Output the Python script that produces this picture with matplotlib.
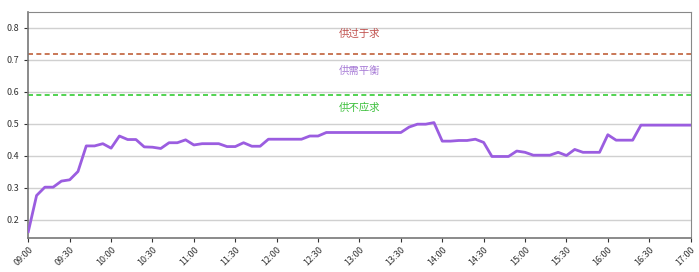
import matplotlib
matplotlib.use('Agg')
import matplotlib.pyplot as plt
import numpy as np

plt.rcParams['font.family'] = ['Noto Sans CJK SC', 'DejaVu Sans']

# 采样间隔 6 分钟, 09:00 - 17:00
step_min = 6
ratio = [
    0.163, 0.276, 0.302, 0.302, 0.321, 0.325, 0.351, 0.431, 0.431, 0.438,
    0.424, 0.462, 0.451, 0.451, 0.428, 0.427, 0.423, 0.441, 0.441, 0.450,
    0.434, 0.438, 0.438, 0.438, 0.429, 0.429, 0.441, 0.430, 0.430, 0.452,
    0.452, 0.452, 0.452, 0.452, 0.462, 0.462, 0.473, 0.473, 0.473, 0.473,
    0.473, 0.473, 0.473, 0.473, 0.473, 0.473, 0.490, 0.499, 0.499, 0.504,
    0.446, 0.446, 0.448, 0.448, 0.452, 0.442, 0.398, 0.398, 0.398, 0.415,
    0.411, 0.402, 0.402, 0.402, 0.411, 0.401, 0.420, 0.411, 0.411, 0.411,
    0.466, 0.449, 0.449, 0.449, 0.496, 0.496, 0.496, 0.496, 0.496, 0.496,
    0.496,
]
tick_labels = ['09:00', '09:30', '10:00', '10:30', '11:00', '11:30', '12:00',
               '12:30', '13:00', '13:30', '14:00', '14:30', '15:00', '15:30',
               '16:00', '16:30', '17:00']
upper_level = 0.72
lower_level = 0.59
zone_names = ['供过于求', '供需平衡', '供不应求']
zone_y = [0.78, 0.665, 0.551]
zone_colors = ['#c0504d', '#a77bd6', '#3cc03c']

minutes = np.arange(len(ratio)) * step_min

fig = plt.figure(figsize=(6.99, 2.72), dpi=100)
ax = fig.add_axes([0.0405, 0.125, 0.9475, 0.831])

ax.plot(minutes, ratio, color='#9b5de0', linewidth=2, zorder=3)
ax.axhline(upper_level, color='#c0603a', linestyle='--', linewidth=1.2, dashes=(3, 2), zorder=2)
ax.axhline(lower_level, color='#33cc33', linestyle='--', linewidth=1.2, dashes=(3, 2), zorder=2)

# 区域文字放在 13:00
for name, yv, c in zip(zone_names, zone_y, zone_colors):
    ax.text(240, yv, name, color=c, fontsize=7.5, ha='center', va='center')

ax.set_xlim(0, 480)
ax.set_ylim(0.143, 0.85)
ax.set_yticks([0.2, 0.3, 0.4, 0.5, 0.6, 0.7, 0.8])
ax.set_yticklabels(['0.2', '0.3', '0.4', '0.5', '0.6', '0.7', '0.8'])
ax.set_xticks(np.arange(0, 481, 30))
ax.set_xticklabels(tick_labels, rotation=45, ha='right', rotation_mode='anchor')

ax.tick_params(axis='both', labelsize=6.5, colors='#333333', length=3, width=0.8)
ax.tick_params(axis='x', pad=2)
ax.yaxis.grid(True, color='#d0d0d0', linewidth=1)
ax.set_axisbelow(True)
for side in ['left', 'bottom']:
    ax.spines[side].set_color('#777777')
    ax.spines[side].set_linewidth(1.2)
for side in ['top', 'right']:
    ax.spines[side].set_color('#888888')
    ax.spines[side].set_linewidth(0.8)

fig.savefig('out.png', dpi=100)
